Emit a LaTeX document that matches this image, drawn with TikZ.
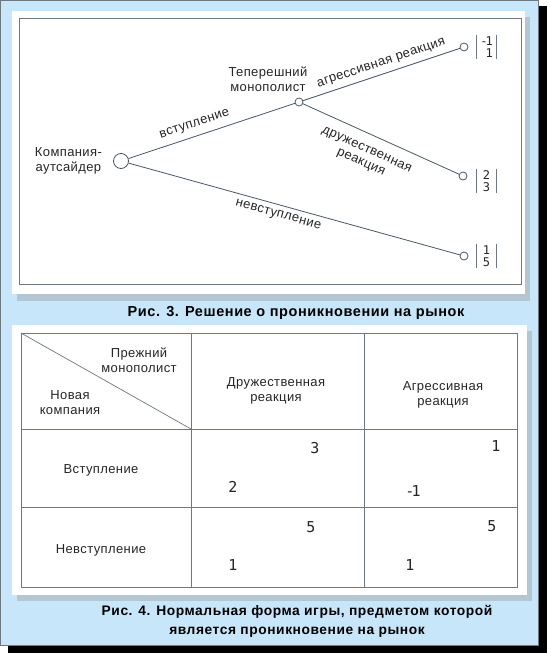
\documentclass[tikz,border=0pt]{standalone}
\usepackage{fontspec}
\setmainfont{Liberation Sans}[LetterSpace=3]
\newfontfamily\numfont{DejaVu Sans Mono}
\usepackage{tikz}
\usetikzlibrary{positioning,calc}

\definecolor{panelblue}{RGB}{200,230,250}
\definecolor{framegray}{RGB}{110,120,128}
\definecolor{branch}{RGB}{70,88,102}
\definecolor{dropgray}{RGB}{180,198,210}

\begin{document}
\begin{tikzpicture}[
 x=1pt, y=-1pt,
 font=\fontsize{13}{15}\selectfont,
 edge/.style={draw=branch, line width=0.8pt},
 chance/.style={circle, draw=branch, fill=white, line width=0.8pt, inner sep=0pt, minimum size=#1},
 lbl/.style={inner sep=1pt, align=center, text=black!85},
 num/.style={font=\numfont\fontsize{#1}{#1}\selectfont, inner sep=0pt, text=black!85},
 payoff/.style={font=\numfont\fontsize{12}{12.5}\selectfont, text=black!85, align=right,
 minimum width=20pt, inner xsep=0pt, inner ysep=1.5pt},
 figcap/.style={font=\bfseries\fontsize{#1}{19}\selectfont\addfontfeatures{LetterSpace=4}, align=center},
 rule/.style={draw=framegray, line width=0.9pt},
]
\useasboundingbox (0,0) rectangle (547,653);
% outer panel with shadow
\fill[black] (8,6) rectangle (547,653);
\filldraw[fill=panelblue, draw=framegray, line width=0.8pt] (0.5,0.5) rectangle (538,645);

% upper sheet: game tree
\fill[dropgray] (17,17) rectangle (530,301);
\fill[white] (12,11) rectangle (525,294);
\draw[rule] (19,18) rectangle (521,284);

\node[chance=15pt] (root) at (121,161) {};
\node[chance=8pt] (mid) at (299,102) {};
\node[chance=8pt] (aggr) at (464,47) {};
\node[chance=8pt] (frnd) at (463,176) {};
\node[chance=8pt] (stay) at (464,256) {};

\node[lbl, left=10pt of root] (outsider) {Компания-\\аутсайдер};
\node[lbl] (incumbent) at (268,79) {Теперешний\\монополист};

\draw[edge] (root) -- node[lbl, sloped, above=5pt, pos=0.42] (entry) {вступление} (mid);
\draw[edge] (root) -- node[lbl, sloped, below=4pt, pos=0.46] (noentry) {невступление} (stay);
\draw[edge] (mid) -- node[lbl, sloped, above=4pt, pos=0.52] (fight) {агрессивная реакция} (aggr);
\draw[edge] (mid) -- node[lbl, sloped, below=10pt, pos=0.45, font=\fontsize{13}{14}\selectfont] (accom) {дружественная\\реакция} (frnd);

\node[payoff, right=8pt of aggr] (pa) {-\kern-2pt1\\1};
\node[payoff, right=9pt of frnd, yshift=-5pt] (pf) {2\\3};
\node[payoff, right=8pt of stay] (ps) {1\\5};
\foreach \p in {pa,pf,ps}
 \draw[framegray, line width=0.7pt] (\p.north west) -- (\p.south west)
 (\p.north east) -- (\p.south east);

\node[figcap=14.5] (cap3) at (296,313) {Рис. 3. Решение о проникновении на рынок};

% lower sheet: normal form
\fill[dropgray] (17,331) rectangle (532,601);
\fill[white] (12,325) rectangle (527,595);
\draw[rule] (21,333) rectangle (517,587);
\draw[rule] (191,333) -- (191,587) (364,333) -- (364,587)
 (21,429) -- (517,429) (21,507) -- (517,507);
\draw[rule, line width=0.7pt] (21,333) -- (191,429);

\node[lbl] (colhead) at (139,360) {Прежний\\монополист};
\node[lbl] (rowhead) at (70,403) {Новая\\компания};
\node[lbl] (friendly) at (276,391) {Дружественная\\реакция};
\node[lbl] (hostile) at (443,395) {Агрессивная\\реакция};
\node[lbl] (enter) at (101,470) {Вступление};
\node[lbl] (stayout) at (101,550) {Невступление};

\node[num=15] (f3) at (315,448) {3};
\node[num=15] (f2) at (233,487) {2};
\node[num=15] (h1) at (496,446) {1};
\node[num=15] (hm) at (413,491) {-\kern-3pt1};
\node[num=15] (n5) at (311,527) {5};
\node[num=15] (n1) at (233,565) {1};
\node[num=15] (m5) at (492,526) {5};
\node[num=15] (m1) at (410,565) {1};

\node[figcap=13.8] (cap4) at (297,621) {Рис. 4. Нормальная форма игры, предметом которой\\является проникновение на рынок};
\end{tikzpicture}
\end{document}
